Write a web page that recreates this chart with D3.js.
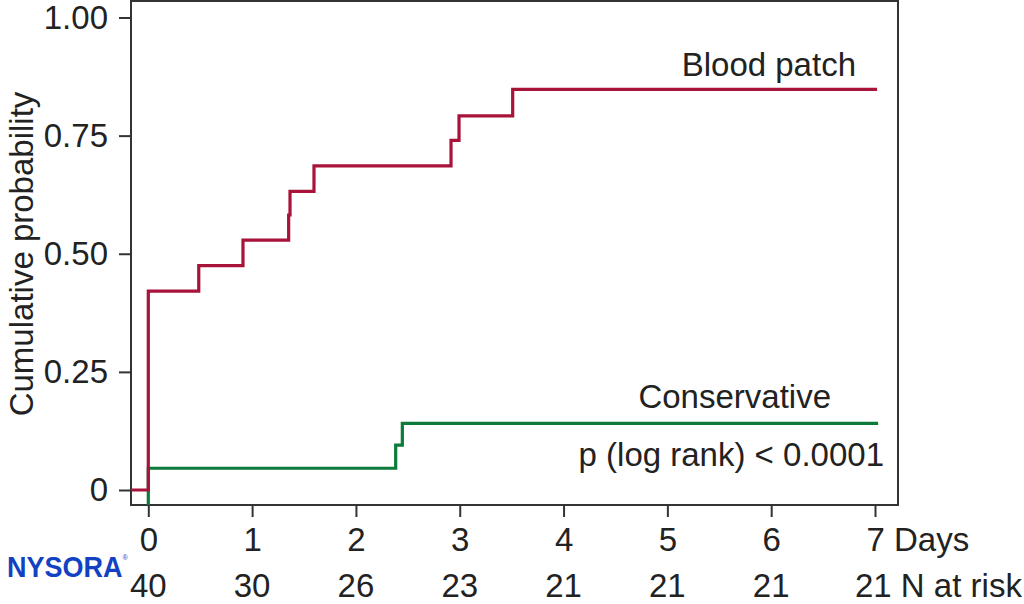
<!DOCTYPE html>
<html lang="en">
<head>
    <script src="https://d3js.org/d3.v7.min.js"></script>
    <style>
        body { margin: 0; background: #fff; }
        text { font-family: "Liberation Sans", Arial, sans-serif; fill: #222; }
        .frame { fill: none; stroke: #333; stroke-width: 2px; }
        .tick line { stroke: #333; stroke-width: 2px; }
        .curve { fill: none; stroke-width: 3.2px; }
    </style>
</head>
<body>
    <div id="chart"></div>

    <script>
        // Kaplan-Meier steps (days, cumulative probability)
        const bloodTimes = [0, 0.486, 0.912, 1.352, 1.365, 1.596, 2.916, 2.993, 3.51, 7.02];
        const bloodProb = [0.421, 0.475, 0.529, 0.582, 0.632, 0.686, 0.740, 0.792, 0.848, 0.848];

        const consTimes = [0, 2.383, 2.447, 7.03];
        const consProb = [0.046, 0.095, 0.141, 0.141];

        const dayTicks = [0, 1, 2, 3, 4, 5, 6, 7];
        const atRisk = [40, 30, 26, 23, 21, 21, 21, 21];
        const probTicks = [0, 0.25, 0.5, 0.75, 1];

        const width = 1024, height = 604;
        const frame = { left: 131, right: 898, top: 1, bottom: 505 };
        const fs = 33;

        const svg = d3.select('#chart')
            .append('svg')
            .attr('width', width)
            .attr('height', height);

        const x = d3.scaleLinear().domain([0, 7]).range([148.3, 875]);
        const y = d3.scaleLinear().domain([0, 1]).range([490, 17.5]);

        const xMin = x.invert(frame.left);
        const yMin = y.invert(frame.bottom);

        // frame box
        svg.append('rect')
            .attr('class', 'frame')
            .attr('x', frame.left)
            .attr('y', frame.top)
            .attr('width', frame.right - frame.left)
            .attr('height', frame.bottom - frame.top);

        // y axis
        const yAxis = svg.append('g')
            .attr('transform', `translate(${frame.left},0)`)
            .call(d3.axisLeft(y)
                .tickValues(probTicks)
                .tickSize(12)
                .tickPadding(11)
                .tickFormat(d => d === 0 ? '0' : d3.format('.2f')(d)));
        yAxis.select('.domain').remove();
        yAxis.selectAll('text')
            .attr('font-size', fs)
            .attr('font-family', null)
            .attr('fill', '#222');

        // x axis
        const xAxis = svg.append('g')
            .attr('transform', `translate(0,${frame.bottom})`)
            .call(d3.axisBottom(x)
                .tickValues(dayTicks)
                .tickSize(12)
                .tickPadding(11)
                .tickFormat(d => d === 7 ? '7 Days' : d));
        xAxis.select('.domain').remove();
        xAxis.selectAll('text')
            .attr('font-size', fs)
            .attr('font-family', null)
            .attr('fill', '#222');
        xAxis.selectAll('.tick')
            .filter(d => d === 7)
            .select('text')
            .attr('text-anchor', 'start')
            .attr('x', -9);

        // numbers at risk row
        svg.append('g')
            .selectAll('text')
            .data(atRisk)
            .join('text')
            .attr('x', (d, i) => x(dayTicks[i]) + (i === atRisk.length - 1 ? -20 : 0))
            .attr('y', 597)
            .attr('text-anchor', (d, i) => i === atRisk.length - 1 ? 'start' : 'middle')
            .attr('font-size', fs)
            .text((d, i) => i === atRisk.length - 1 ? d + ' N at risk' : d);

        // y axis title
        svg.append('text')
            .attr('transform', 'translate(33,254) rotate(-90)')
            .attr('text-anchor', 'middle')
            .attr('font-size', fs)
            .text('Cumulative probability');

        // curves
        const line = d3.line()
            .x(d => x(d[0]))
            .y(d => y(d[1]))
            .curve(d3.curveStepAfter);

        const bloodPts = [[xMin, 0]].concat(bloodTimes.map((t, i) => [t, bloodProb[i]]));
        const consPts = [[0, yMin]].concat(consTimes.map((t, i) => [t, consProb[i]]));

        svg.append('path')
            .attr('class', 'curve')
            .attr('stroke', '#0b7a3a')
            .attr('d', line(consPts));

        svg.append('path')
            .attr('class', 'curve')
            .attr('stroke', '#a8133a')
            .attr('d', line(bloodPts));

        // labels
        svg.append('text')
            .attr('x', 856).attr('y', 76)
            .attr('text-anchor', 'end')
            .attr('font-size', fs)
            .text('Blood patch');

        svg.append('text')
            .attr('x', 831).attr('y', 408)
            .attr('text-anchor', 'end')
            .attr('font-size', fs)
            .text('Conservative');

        svg.append('text')
            .attr('x', 884).attr('y', 466)
            .attr('text-anchor', 'end')
            .attr('font-size', fs)
            .text('p (log rank) < 0.0001');

        // logo, squeezed a little horizontally
        const logo = svg.append('g')
            .attr('transform', 'translate(7,577) scale(0.9,1)')
            .append('text')
            .attr('font-weight', 'bold')
            .style('fill', '#1241c4');
        logo.append('tspan')
            .attr('font-size', 30)
            .text('NYSORA');
        logo.append('tspan')
            .attr('font-size', 8)
            .attr('font-weight', 'normal')
            .attr('dy', -17)
            .text('®');
    </script>
</body>
</html>
